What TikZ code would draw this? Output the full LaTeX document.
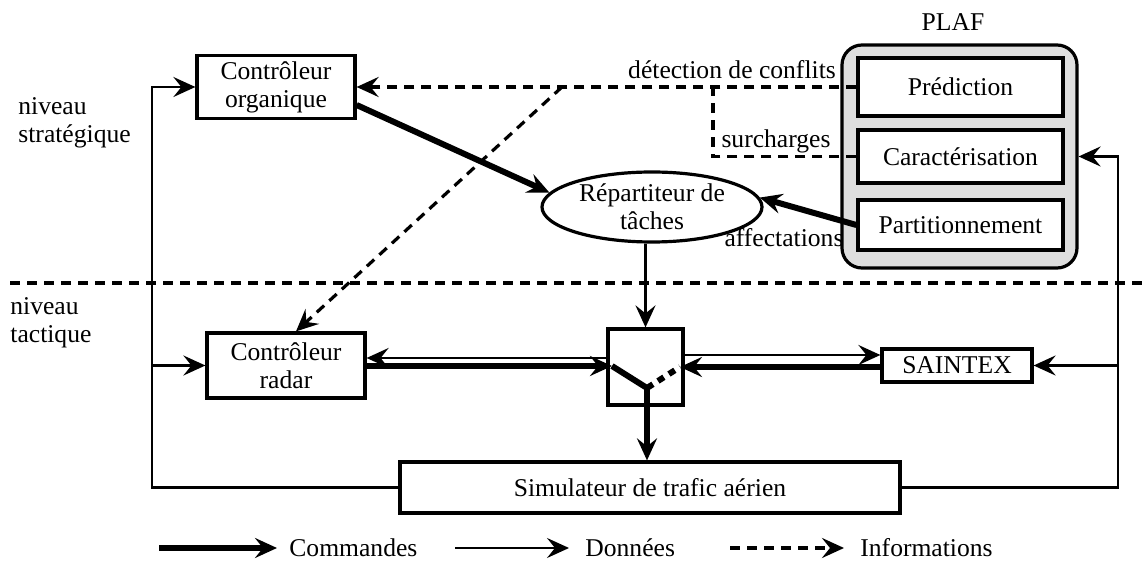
\documentclass[tikz,border=0pt]{standalone}
\usepackage{fontspec}
\setmainfont{Liberation Serif}
\usetikzlibrary{arrows.meta,shapes.geometric}
\begin{document}
\begin{tikzpicture}[x=0.5pt,y=-0.5pt,font=\fontsize{12.8}{14}\selectfont]
\tikzstyle{box node}=[rectangle,draw,line width=1.6pt,inner sep=0,align=center]
\tikzstyle{plaf node}=[rectangle,draw,line width=1.6pt,inner sep=0,fill=white,minimum width=102.5pt]
\tikzset{
	tip/.style={-{Stealth[length=11pt,width=10pt,inset=4pt]}},
	cmd/.style={line width=3pt,tip},
	data/.style={line width=1.2pt,tip},
	info/.style={line width=1.6pt,dash pattern=on 5pt off 3.5pt},
	label text/.style={inner sep=0}
}
\useasboundingbox (0,0) rectangle (1142,577);

% niveaux
\node[label text,anchor=west,align=left] (strat) at (18,123) {niveau\\strat\'egique};
\node[label text,anchor=west,align=left] (tact) at (10,323) {niveau\\tactique};
\coordinate (sepA) at (10,283);
\coordinate (sepB) at (1142,283);
\draw[info] (sepA) -- (sepB);

% PLAF
\node[draw,line width=1.6pt,rounded corners=10pt,fill=black!13,minimum width=117.5pt,minimum height=111.5pt] (plaf) at (959.5,156.5) {};
\node[label text] (plaftitle) at (953,22) {PLAF};
\node[plaf node,minimum height=29pt] (pred) at (960.5,87) {Pr\'ediction};
\node[plaf node,minimum height=26.5pt] (carac) at (960.5,156.5) {Caract\'erisation};
\node[plaf node,minimum height=25pt] (part) at (960.5,225) {Partitionnement};

% boites
\node[box node,minimum width=79pt,minimum height=31.5pt] (org) at (276,87) {Contr\^oleur\\organique};
\node[box node,minimum width=79pt,minimum height=32.5pt] (radar) at (286,365.5) {Contr\^oleur\\radar};
\node[ellipse,draw,line width=1.6pt,inner sep=0,minimum width=110pt,minimum height=35pt,align=center] (rep) at (652,207) {R\'epartiteur de\\t\^aches};
\node[box node,minimum width=37.5pt,minimum height=38pt] (sw) at (645.5,367) {};
\node[box node,minimum width=75pt,minimum height=16.5pt] (saintex) at (957,365.5) {SAINTEX};
\node[box node,minimum width=250pt,minimum height=25.5pt] (sim) at (650,487.5) {Simulateur de trafic a\'erien};

% commutateur
\coordinate (lv) at (612,366);
\coordinate (pv) at (647,388);
\coordinate (ld) at (680,367);
\draw[line width=3pt] (lv) -- (pv);
\draw[line width=3pt,dash pattern=on 3.5pt off 3pt] (pv) -- (ld);
\draw[cmd] (pv) -- (pv |- sim.north);

% commandes
\draw[cmd] ([yshift=-9pt]org.east) -- (rep.172);
\draw[cmd] (part.west) -- (rep.5);
\node[label text] (aff) at (784,238) {affectations};
\draw[cmd] (radar.east |- lv) -- (lv);
\draw[cmd] (saintex.west |- ld) -- (ld);

% donnees
\draw[data] (sw.north |- rep.south) -- (sw.north);
\draw[data] (sw.west |- 0,358) -- (radar.east |- 0,358);
\draw[data] (sw.east |- 0,355) -- (saintex.west |- 0,355);
\coordinate (lb) at (152,487.5);
\coordinate (rb) at (1118,487.5);
\draw[data] (sim.west) -- (lb) |- (org.west);
\draw[data] (lb |- radar.west) -- (radar.west);
\draw[data] (sim.east) -- (rb) |- (plaf.east |- carac.east);
\draw[data] (rb |- saintex.east) -- (saintex.east);

% informations
\coordinate (j1) at (713,87);
\coordinate (j2) at (562,87);
\draw[info,tip] (pred.west) -- (org.east);
\draw[info,tip] (j2) -- ([xshift=5pt]radar.north);
\draw[info] (carac.west) -- (carac.west -| j1) -- (j1);
\node[label text,anchor=base] (det) at (732,79) {d\'etection de conflits};
\node[label text,anchor=base] (surch) at (776,148) {surcharges};

% legende
\coordinate (c1) at (159,548);
\coordinate (c2) at (455,548);
\coordinate (c3) at (730,548);
\node[label text,anchor=west] (lcmd) at (289,548) {Commandes};
\node[label text,anchor=west] (ldata) at (585,548) {Donn\'ees};
\node[label text,anchor=west] (linfo) at (860,548) {Informations};
\draw[cmd] (c1) -- ([xshift=-6pt]lcmd.west);
\draw[data] (c2) -- ([xshift=-8pt]ldata.west);
\draw[info,tip] (c3) -- ([xshift=-8pt]linfo.west);
\end{tikzpicture}
\end{document}
